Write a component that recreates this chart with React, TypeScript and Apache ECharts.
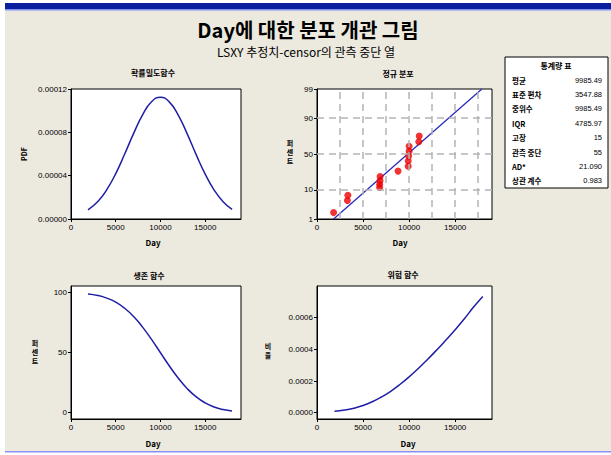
import React, { useEffect, useRef } from "react";
import * as echarts from "echarts";

// ---------- data ----------
const days = [1900, 3000, 4000, 5000, 6000, 7000, 8000, 9000, 10000, 11000, 12000, 13000, 14000, 15000, 16000, 17000, 18000];
const pdfValues = [0.0000084, 0.0000161, 0.0000271, 0.0000419, 0.00006, 0.000079, 0.0000962, 0.0001082, 0.0001124, 0.0001079, 0.0000957, 0.0000784, 0.0000592, 0.0000414, 0.0000267, 0.000016, 0.0000088];
const survivalPercent = [98.9, 97.6, 95.4, 92.0, 86.9, 80.0, 71.2, 60.9, 49.8, 38.7, 28.5, 19.8, 12.9, 7.9, 4.5, 2.4, 1.2];
const hazardRate = [0.0000085, 0.0000165, 0.0000284, 0.0000455, 0.000069, 0.000099, 0.000135, 0.000178, 0.000226, 0.000279, 0.000336, 0.000396, 0.000459, 0.000524, 0.000593, 0.000667, 0.000734];

const failureDays = [1800, 3300, 3350, 6800, 6800, 6850, 6850, 8800, 9900, 9900, 9950, 10000, 10000, 11050, 11100];
const failurePercent = [1.8, 4.8, 7.0, 11.5, 14, 17, 21, 27, 33, 40, 47, 54, 61, 67, 74];
const fitLineDays = [1800, 17900];
const fitLinePercent = [1, 99];

const xTicks = [0, 5000, 10000, 15000];
const probGridX = [2500, 5000, 7500, 10000, 12500, 15000, 17500];
const probTicks = [1, 10, 50, 90, 99];
const probGridY = [10, 50, 90];
const pdfTicks = [0, 0.00004, 0.00008, 0.00012];
const survTicks = [0, 50, 100];
const hazardTicks = [0, 0.0002, 0.0004, 0.0006];

const statLabels = ["평균", "표준 편차", "중위수", "IQR", "고장", "관측 중단", "AD*", "상관 계수"];
const statValues = ["9985.49", "3547.88", "9985.49", "4785.97", "15", "55", "21.090", "0.983"];

// probability-scale transform (inverse standard normal CDF)
function normInv(p: number): number {
  const a = [-3.969683028665376e1, 2.209460984245205e2, -2.759285104469687e2, 1.38357751867269e2, -3.066479806614716e1, 2.506628277459239];
  const b = [-5.447609879822406e1, 1.615858368580409e2, -1.556989798598866e2, 6.680131188771972e1, -1.328068155833221e1];
  const c = [-7.784894002430293e-3, -3.223964580411365e-1, -2.400758277161838, -2.549732539343734, 4.374664141464968, 2.938163982698783];
  const d = [7.784695709041462e-3, 3.224671290700398e-1, 2.445134137142996, 3.754408661907416];
  const pl = 0.02425;
  if (p < pl) {
    const q = Math.sqrt(-2 * Math.log(p));
    return (((((c[0] * q + c[1]) * q + c[2]) * q + c[3]) * q + c[4]) * q + c[5]) / ((((d[0] * q + d[1]) * q + d[2]) * q + d[3]) * q + 1);
  }
  if (p > 1 - pl) {
    const q = Math.sqrt(-2 * Math.log(1 - p));
    return -(((((c[0] * q + c[1]) * q + c[2]) * q + c[3]) * q + c[4]) * q + c[5]) / ((((d[0] * q + d[1]) * q + d[2]) * q + d[3]) * q + 1);
  }
  const q = p - 0.5;
  const r = q * q;
  return ((((((a[0] * r + a[1]) * r + a[2]) * r + a[3]) * r + a[4]) * r + a[5]) * q) / (((((b[0] * r + b[1]) * r + b[2]) * r + b[3]) * r + b[4]) * r + 1);
}

const FONT = "'Liberation Sans', Arial, sans-serif";
const KFONT = "'Noto Sans CJK KR', sans-serif";
const CURVE = "#1f1fa6";

const probTickZ = probTicks.map((p) => normInv(p / 100));
const zMax = normInv(0.99);

function xAxisFor(gridIndex: number) {
  return {
    type: "value",
    gridIndex,
    min: 0,
    max: 19000,
    axisLine: { show: true, onZero: false, lineStyle: { color: "#000", width: 1 } },
    axisTick: { show: true, length: 3, customValues: xTicks, lineStyle: { color: "#000" } },
    axisLabel: { color: "#000", fontSize: 8, fontFamily: FONT, margin: 4, customValues: xTicks, formatter: (v: number) => String(v) },
    splitLine: { show: false },
  };
}

function yAxisFor(gridIndex: number, min: number, max: number, ticks: number[], formatter: (v: number) => string) {
  return {
    type: "value",
    gridIndex,
    min,
    max,
    axisLine: { show: true, onZero: false, lineStyle: { color: "#000", width: 1 } },
    axisTick: { show: true, length: 3, customValues: ticks, lineStyle: { color: "#000" } },
    axisLabel: { color: "#000", fontSize: 8, fontFamily: FONT, margin: 4, customValues: ticks, formatter },
    splitLine: { show: false },
  };
}

function label(text: string, x: number, y: number, size = 8, bold = true, align = "center", extra: any = {}) {
  return {
    type: "text",
    x,
    y,
    silent: true,
    style: { text, fill: "#000", font: `${bold ? "bold " : ""}${size}px ${KFONT}`, textAlign: align, textVerticalAlign: "middle" },
    ...extra,
  };
}

function stacked(chars: string[], x: number, yTop: number, step = 9) {
  return chars.map((ch, i) => label(ch, x, yTop + i * step, 7, true));
}

export default function App() {
  const ref = useRef<HTMLDivElement>(null);
  useEffect(() => {
    if (!ref.current) return;
    const chart = echarts.init(ref.current, null, { renderer: "svg" });

    const gridBase = { show: true, backgroundColor: "#fff", borderColor: "#000", borderWidth: 1, containLabel: false };

    const statsGraphics: any[] = [
      { type: "rect", shape: { x: 505, y: 57, width: 103, height: 131 }, style: { fill: "#fff", stroke: "#000", lineWidth: 1 }, silent: true },
      label("통계량 표", 556, 65, 8, true),
    ];
    statLabels.forEach((s, i) => {
      const y = 80 + i * 14.4;
      statsGraphics.push(label(s, 512, y, 7.5, true, "left"));
      statsGraphics.push({
        type: "text",
        x: 602,
        y,
        silent: true,
        style: { text: statValues[i], fill: "#000", font: `7.5px ${FONT}`, textAlign: "right", textVerticalAlign: "middle" },
      });
    });

    const option: any = {
      animation: false,
      backgroundColor: "#fff",
      grid: [
        { ...gridBase, left: 71, top: 89, width: 170, height: 130 },
        { ...gridBase, left: 317, top: 89, width: 175, height: 130 },
        { ...gridBase, left: 71, top: 286, width: 170, height: 133 },
        { ...gridBase, left: 317, top: 286, width: 175, height: 133 },
      ],
      xAxis: [xAxisFor(0), xAxisFor(1), xAxisFor(2), xAxisFor(3)],
      yAxis: [
        yAxisFor(0, 0, 0.00012, pdfTicks, (v: number) => v.toFixed(5)),
        yAxisFor(1, -zMax, zMax, probTickZ, (v: number) => {
          let best = 0;
          probTickZ.forEach((z, i) => {
            if (Math.abs(z - v) < Math.abs(probTickZ[best] - v)) best = i;
          });
          return String(probTicks[best]);
        }),
        yAxisFor(2, -5.5, 105.5, survTicks, (v: number) => String(Math.round(v))),
        yAxisFor(3, -0.00004, 0.0008, hazardTicks, (v: number) => v.toFixed(4)),
      ],
      series: [
        {
          type: "line",
          xAxisIndex: 0,
          yAxisIndex: 0,
          data: days.map((d, i) => [d, pdfValues[i]]),
          smooth: true,
          showSymbol: false,
          lineStyle: { color: CURVE, width: 1.5 },
          silent: true,
        },
        {
          type: "line",
          xAxisIndex: 1,
          yAxisIndex: 1,
          data: [],
          silent: true,
          z: 1,
          markLine: {
            silent: true,
            symbol: "none",
            label: { show: false },
            lineStyle: { color: "#b4b4b4", type: [7, 5], width: 1.5 },
            data: [
              ...probGridX.map((x) => ({ xAxis: x })),
              ...probGridY.map((p) => ({ yAxis: normInv(p / 100) })),
            ],
          },
        },
        {
          type: "line",
          xAxisIndex: 1,
          yAxisIndex: 1,
          data: fitLineDays.map((d, i) => [d, normInv(fitLinePercent[i] / 100)]),
          showSymbol: false,
          lineStyle: { color: "#2a2ac0", width: 1.3 },
          silent: true,
          z: 2,
        },
        {
          type: "scatter",
          xAxisIndex: 1,
          yAxisIndex: 1,
          data: failureDays.map((d, i) => [d, normInv(failurePercent[i] / 100)]),
          symbolSize: 7,
          itemStyle: { color: "#ee0000" },
          silent: true,
          z: 3,
        },
        {
          type: "line",
          xAxisIndex: 2,
          yAxisIndex: 2,
          data: days.map((d, i) => [d, survivalPercent[i]]),
          smooth: true,
          showSymbol: false,
          lineStyle: { color: CURVE, width: 1.5 },
          silent: true,
        },
        {
          type: "line",
          xAxisIndex: 3,
          yAxisIndex: 3,
          data: days.map((d, i) => [d, hazardRate[i]]),
          smooth: true,
          showSymbol: false,
          lineStyle: { color: CURVE, width: 1.5 },
          silent: true,
        },
      ],
      graphic: [
        { type: "rect", z: -10, shape: { x: 5, y: 9, width: 606, height: 443 }, style: { fill: "#ece9df" }, silent: true },
        { type: "rect", z: -9, shape: { x: 5, y: 3, width: 606, height: 6 }, style: { fill: "#0a1f9e" }, silent: true },
        { type: "rect", z: -9, shape: { x: 5, y: 9, width: 606, height: 1.5 }, style: { fill: "#7f8ff0" }, silent: true },
        { type: "rect", z: -9, shape: { x: 5, y: 451, width: 606, height: 1.5 }, style: { fill: "#8f8ff6" }, silent: true },
        label("Day에 대한 분포 개관 그림", 308, 29, 20, true),
        label("LSXY 추정치-censor의 관측 중단 열", 306, 51, 12, false),
        label("확률밀도함수", 153, 72, 8, true),
        label("정규 분포", 398, 73, 8, true),
        label("생존 함수", 149, 275, 8, true),
        label("위험 함수", 403, 274, 8, true),
        label("Day", 153, 242, 8, true),
        label("Day", 400, 242, 8, true),
        label("Day", 153, 443, 8, true),
        label("Day", 408, 443, 8, true),
        label("PDF", 24, 154, 7, true, "center", { rotation: Math.PI / 2 }),
        ...stacked(["퍼", "센", "트"], 290, 143),
        ...stacked(["퍼", "센", "트"], 35, 343),
        ...stacked(["비", "율"], 268, 346),
        ...statsGraphics,
      ],
    };

    chart.setOption(option);
    return () => chart.dispose();
  }, []);

  return <div ref={ref} style={{ position: "absolute", left: 0, top: 0, width: 611, height: 455 }} />;
}
